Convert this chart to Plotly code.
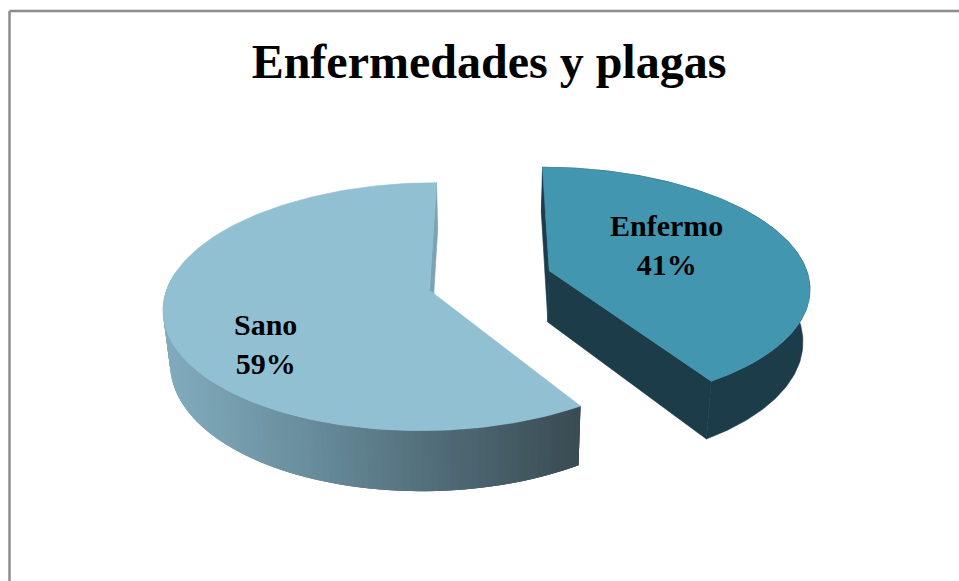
import numpy as np
import plotly.graph_objects as go

categories = ["Enfermo", "Sano"]
percent_values = [41, 59]

# colours: top face, wall face
TOP_COLORS = {"Enfermo": "#4396AF", "Sano": "#92C0D3"}
WALL_COLORS = {"Enfermo": "#1B3C48", "Sano": "#7BA3B5"}
SERIF = "Liberation Serif"

# pie camera: flattened disc with a little perspective, all in pixels
CX, CY = 490, 279.5
RX, RY = 260, 119
PERSP = 0.13
DEPTH = 52
SHRINK = 0.022  # lower rim sits further from the camera
EXPLODE = {"Enfermo": (0.23, 0.075), "Sano": (-0.23, -0.09)}


def project(u, v, drop=0.0):
    s = 1 / (1 + PERSP * v)
    squeeze = 1 - SHRINK * drop / DEPTH
    return CX + RX * u * s * squeeze, CY - RY * v * s + drop * s


def wedge_angles(name):
    # clockwise from 12 o'clock, first category starts at the top
    share = np.cumsum([0] + percent_values) / sum(percent_values) * 360
    i = categories.index(name)
    return share[i], share[i + 1]


def wedge_outline(name, drop=0.0):
    a0, a1 = wedge_angles(name)
    ex, ey = EXPLODE[name]
    t = np.radians(np.linspace(a0, a1, 160))
    return project(ex + np.sin(t), ey + np.cos(t), drop)


def polygon(x, y, color, width=0.6):
    return go.Scatter(
        x=list(x), y=list(y), mode="lines", fill="toself", fillcolor=color,
        line=dict(color=color, width=width), hoverinfo="skip", showlegend=False,
    )


def mix(stops, f):
    f = min(max(f, 0), 1) * (len(stops) - 1)
    i = min(int(f), len(stops) - 2)
    c = [stops[i][k] + (stops[i + 1][k] - stops[i][k]) * (f - i) for k in range(3)]
    return "rgb(%d,%d,%d)" % tuple(c)


def radial_wall(name, angle):
    ex, ey = EXPLODE[name]
    t = np.radians(angle)
    ax, ay = project(ex, ey)
    bx, by = project(ex + np.sin(t), ey + np.cos(t))
    cx, cy = project(ex + np.sin(t), ey + np.cos(t), DEPTH)
    dx, dy = project(ex, ey, DEPTH)
    return [ax, bx, cx, dx, ax], [ay, by, cy, dy, ay]


def apex(name):
    return project(*EXPLODE[name])


fig = go.Figure()

# Sano: back wall sliver, gradient rim, top face
x, y = radial_wall("Sano", wedge_angles("Sano")[1])
fig.add_trace(polygon(x, y, WALL_COLORS["Sano"]))

sano_stops = [(130, 172, 190), (105, 142, 157), (80, 107, 118), (58, 75, 83)]
tx, ty = wedge_outline("Sano")
bx, by = wedge_outline("Sano", DEPTH)
# painted left to right, each strip overlapping the next so no seams show
for i in range(len(tx) - 1, 0, -1):
    if ty[i] < CY - 10:
        continue
    j = max(i - 3, 0)
    color = mix(sano_stops, (tx[i] - tx.min()) / (tx[0] - tx.min()))
    fig.add_trace(polygon([*tx[j:i + 1], *bx[j:i + 1][::-1]], [*ty[j:i + 1], *by[j:i + 1][::-1]], color, width=0))

ax, ay = apex("Sano")
fig.add_trace(polygon([ax, *tx, ax], [ay, *ty, ay], TOP_COLORS["Sano"]))

# Enfermo: dark walls then top face
wall = WALL_COLORS["Enfermo"]
x, y = radial_wall("Enfermo", wedge_angles("Enfermo")[0])
fig.add_trace(polygon(x, y, wall))
x, y = radial_wall("Enfermo", wedge_angles("Enfermo")[1])
fig.add_trace(polygon(x, y, wall))
tx, ty = wedge_outline("Enfermo")
bx, by = wedge_outline("Enfermo", DEPTH)
fig.add_trace(polygon([*tx, *bx[::-1]], [*ty, *by[::-1]], wall))
ax, ay = apex("Enfermo")
fig.add_trace(polygon([ax, *tx, ax], [ay, *ty, ay], TOP_COLORS["Enfermo"]))

label_pos = {"Enfermo": (666, 245), "Sano": (265, 344)}
annotations = [
    dict(
        x=label_pos[name][0], y=label_pos[name][1], xref="x", yref="y",
        text=f"<b>{name}<br>{pct}%</b>", showarrow=False,
        font=dict(family=SERIF, size=30, color="black"),
    )
    for name, pct in zip(categories, percent_values)
]

fig.update_layout(
    width=959, height=581, margin=dict(l=0, r=0, t=0, b=0),
    paper_bgcolor="white", plot_bgcolor="white", showlegend=False,
    title=dict(
        text="<b>Enfermedades y plagas</b>", x=489 / 959, y=1 - 61 / 581,
        xanchor="center", yanchor="middle",
        font=dict(family=SERIF, size=48, color="black"),
    ),
    xaxis=dict(range=[0, 959], visible=False, fixedrange=True),
    yaxis=dict(range=[581, 0], visible=False, fixedrange=True),
    annotations=annotations,
    shapes=[
        dict(type="line", xref="x", yref="y", x0=9.5, y0=11, x1=959, y1=11, line=dict(color="#8C8C8C", width=2.5)),
        dict(type="line", xref="x", yref="y", x0=9.5, y0=11, x1=9.5, y1=581, line=dict(color="#8C8C8C", width=2.5)),
    ],
)

fig.write_html("out.html", config=dict(displayModeBar=False), post_script="document.body.style.margin='0';")
